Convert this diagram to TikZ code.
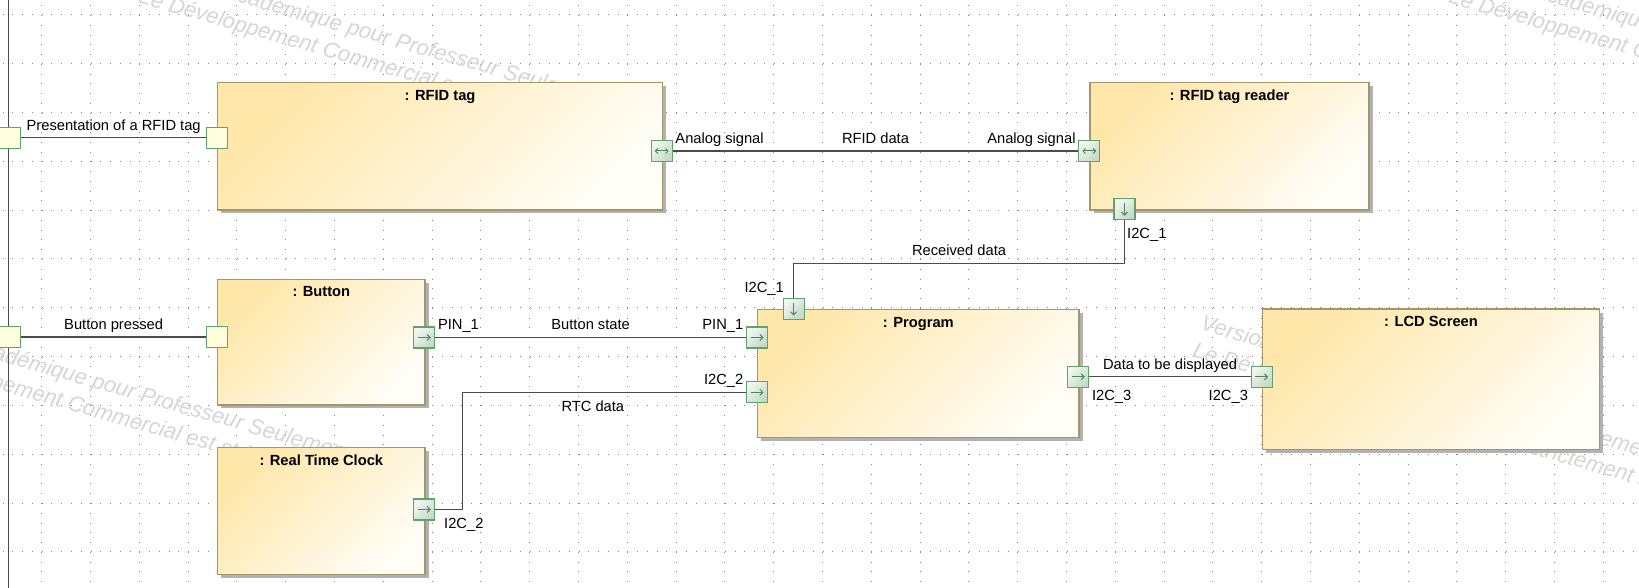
\documentclass[tikz,border=0pt]{standalone}
\usepackage{fontspec}
\setmainfont{Liberation Sans}
\usetikzlibrary{positioning,arrows.meta,shadows}
\definecolor{boxtop}{RGB}{255,231,170}
\definecolor{boxbottom}{RGB}{255,253,246}
\definecolor{boxline}{RGB}{165,150,105}
\definecolor{portgreen}{RGB}{98,160,110}
\definecolor{portyellow}{RGB}{255,255,222}
\definecolor{portlight}{RGB}{240,246,241}
\definecolor{portdark}{RGB}{194,219,199}
\definecolor{wire}{RGB}{75,75,75}
\definecolor{dotgray}{RGB}{135,135,135}
\definecolor{wmgray}{RGB}{214,214,214}
\tikzset{block/.style = {draw=boxline, line width=1.4pt, top color=boxtop, bottom color=boxbottom, shading angle=45, drop shadow={shadow xshift=3.5pt, shadow yshift=-3.5pt, fill=black!30, opacity=1}, anchor=north west, inner sep=0pt}}
\tikzset{title/.style = {font=\fontsize{14.7}{17}\selectfont\bfseries, anchor=base, inner sep=0pt}}
\tikzset{lbl/.style = {inner sep=2pt, text height=10.5pt, text depth=3.5pt, text=black}}
\tikzset{conn/.style = {draw=wire, line width=1.3pt}}
\tikzset{griddots/.style = {draw=dotgray, line width=1pt, dash pattern=on 1pt off 8.76pt}}
\tikzset{port/.style = {draw=portgreen, line width=1.2pt, fill=portyellow, minimum size=21pt, inner sep=0pt}}
\tikzset{flowport/.style = {port, top color=portlight, bottom color=portdark, shading angle=45}}
\tikzset{portarrow/.style = {draw=portgreen!85!black, line width=1pt}}
\tikzset{rightport/.style = {flowport, path picture={\draw[portarrow, -{Straight Barb[length=3pt,width=6pt]}] ([xshift=-6.5pt]path picture bounding box.center) -- ([xshift=6.5pt]path picture bounding box.center);}}}
\tikzset{downport/.style = {flowport, path picture={\draw[portarrow, -{Straight Barb[length=3pt,width=6pt]}] ([yshift=6.5pt]path picture bounding box.center) -- ([yshift=-6.5pt]path picture bounding box.center);}}}
\tikzset{bothport/.style = {flowport, path picture={\draw[portarrow, {Straight Barb[length=2.5pt,width=5pt]}-{Straight Barb[length=2.5pt,width=5pt]}] ([xshift=-7pt]path picture bounding box.center) -- ([xshift=7pt]path picture bounding box.center);}}}
\tikzset{wm/.style = {font=\fontsize{22}{28}\selectfont\itshape, text=wmgray, rotate=-16, anchor=north west, align=left, inner sep=0pt}}
\newcommand{\watermark}[2]{\node[wm] (#1) at (#2) {Version Académique pour Professeur Seulement\\Le Développement Commercial est strictement interdit};}

\begin{document}
\begin{tikzpicture}[x=1pt, y=-1pt, font=\fontsize{14.7}{17}\selectfont]
\useasboundingbox (0,0) rectangle (1639,588);
\clip (0,0) rectangle (1639,588);
\fill[white] (0,0) rectangle (1639,588);
% grid
\foreach \gx in {0,...,33}
  \draw[griddots] ({41.7+48.8*\gx},-33.8) -- ++(0,660);
\foreach \gy in {0,...,11}
  \draw[griddots] (-7.1,{15+48.8*\gy}) -- ++(1700,0);
% watermark
\watermark{wmA}{150,-40}
\watermark{wmB}{1460,-40}
\watermark{wmC}{-105,314}
\watermark{wmD}{1204,314}
% frame
\draw[wire, line width=1.5pt] (8.3,0) -- (8.3,588);

% blocks
\node[block, minimum width=444.7, minimum height=127.3] (tag) at (217,82) {};
\node[title] (tagT) at ([yshift=-18.4pt]tag.north) {: RFID tag};
\node[block, minimum width=279.1, minimum height=127.3] (reader) at (1089.3,82) {};
\node[title] (readerT) at ([yshift=-18.4pt]reader.north) {: RFID tag reader};
\node[block, minimum width=207.3, minimum height=125.6] (btn) at (217,278.5) {};
\node[title] (btnT) at ([yshift=-18.4pt]btn.north) {: Button};
\node[block, minimum width=207.3, minimum height=126.8] (rtc) at (217,447) {};
\node[title] (rtcT) at ([yshift=-18.4pt]rtc.north) {: Real Time Clock};
\node[block, minimum width=321.3, minimum height=127.6] (prog) at (757,309) {};
\node[title] (progT) at ([yshift=-18.4pt]prog.north) {: Program};
\node[block, minimum width=337.3, minimum height=140.7] (lcd) at (1261.7,308.3) {};
\node[title] (lcdT) at ([yshift=-18.4pt]lcd.north) {: LCD Screen};

% ports
\node[port] (envA) at (10.3,137.7) {};
\node[port] (envB) at (10.3,337) {};
\node[port] (tagL) at (217,137.7) {};
\node[bothport] (tagR) at (661.7,151) {};
\node[bothport] (readerL) at (1089.3,151) {};
\node[downport] (readerB) at (1124.5,209.3) {};
\node[port] (btnL) at (217,337) {};
\node[rightport] (btnR) at (424.3,337.5) {};
\node[rightport] (rtcR) at (424.3,509.5) {};
\node[downport] (progIn) at (793.6,309) {};
\node[rightport] (progL1) at (757,337.5) {};
\node[rightport] (progL2) at (757,392.3) {};
\node[rightport] (progR) at (1078.3,376.8) {};
\node[rightport] (lcdL) at (1261.7,376.8) {};

% connectors
\draw[conn] (envA) -- node[lbl, anchor=south, yshift=1.5pt] (presL) {Presentation of a RFID tag} (tagL);
\draw[conn] (envB) -- node[lbl, anchor=south, yshift=1.5pt] (pressL) {Button pressed} (btnL);
\draw[conn] (tagR) -- node[lbl, anchor=south, yshift=1.5pt] (rfidL) {RFID data}
  node[lbl, at start, anchor=south west, yshift=1.5pt] (sigA) {Analog signal}
  node[lbl, at end, anchor=south east, yshift=1.5pt] (sigB) {Analog signal} (readerL);
\draw[conn] (btnR) -- node[lbl, anchor=south, yshift=1.5pt] (stateL) {Button state}
  node[lbl, at start, anchor=south west, yshift=1.5pt] (pinA) {PIN\_1}
  node[lbl, at end, anchor=south east, yshift=1.5pt] (pinB) {PIN\_1} (progL1);
\draw[conn] (progR) -- node[lbl, anchor=south, yshift=1.5pt] (dispL) {Data to be displayed}
  node[lbl, at start, anchor=north west, yshift=-11pt] (i2c3A) {I2C\_3}
  node[lbl, at end, anchor=north east, yshift=-11pt] (i2c3B) {I2C\_3} (lcdL);
\coordinate (rxA) at (1124.5,263.3);
\coordinate (rxB) at (793.6,263.3);
\draw[conn] (readerB) -- (rxA) -- node[lbl, anchor=south, yshift=1.5pt] (rxL) {Received data} (rxB) -- (progIn);
\coordinate (rtcA) at (462.5,509.5);
\draw[conn] (rtcR) -- (rtcA) |- node[lbl, pos=0.73, anchor=north, yshift=-5.7pt] (rtcL) {RTC data}
  node[lbl, at end, anchor=south east, yshift=1.5pt] (i2c2B) {I2C\_2} (progL2);
% port names
\node[lbl, anchor=base west] (i2c1A) at (1125,239) {I2C\_1};
\node[lbl, anchor=base east] (i2c1B) at (786,292) {I2C\_1};
\node[lbl, anchor=base west] (i2c2A) at (442,528) {I2C\_2};
\end{tikzpicture}
\end{document}
